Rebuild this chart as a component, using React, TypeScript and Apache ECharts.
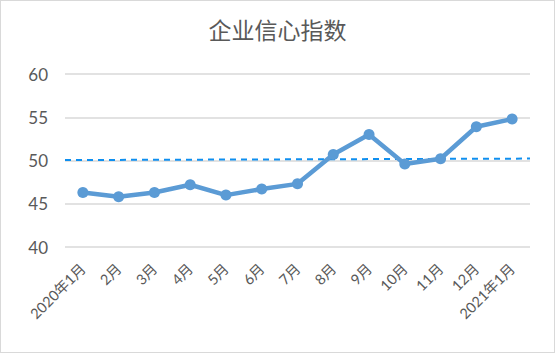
import React, { useEffect, useRef } from "react";
import * as echarts from "echarts";

const categories = ["2020年1月", "2月", "3月", "4月", "5月", "6月", "7月", "8月", "9月", "10月", "11月", "12月", "2021年1月"];
const confidenceIndex = [46.3, 45.8, 46.3, 47.2, 46.0, 46.7, 47.3, 50.7, 53.0, 49.6, 50.2, 53.9, 54.8];
const referenceLine = [[0, 50.05], [1, 50.22]];
const yTicks = { min: 40, max: 60, interval: 5 };

const FONT = "Lato, 'Noto Sans CJK SC', sans-serif";

export default function App() {
  const ref = useRef<HTMLDivElement>(null);
  useEffect(() => {
    document.body.style.margin = "0";
    const chart = echarts.init(ref.current!, null, { renderer: "svg" });
    chart.setOption({
      animation: false,
      backgroundColor: "#ffffff",
      title: {
        text: "企业信心指数",
        left: "center",
        top: 11,
        textStyle: { fontFamily: "'Noto Sans CJK SC', sans-serif", fontSize: 23, fontWeight: "normal", color: "#595959" },
      },
      grid: { left: 64, right: 24, top: 73, bottom: 105 },
      xAxis: [
        {
          type: "category",
          data: categories,
          boundaryGap: true,
          axisLine: { show: false },
          axisTick: { show: false },
          axisLabel: { rotate: 45, margin: 19, fontFamily: FONT, fontSize: 14.5, color: "#595959", interval: 0 },
        },
        { type: "value", min: 0, max: 1, show: false },
      ],
      yAxis: {
        type: "value",
        min: yTicks.min,
        max: yTicks.max,
        interval: yTicks.interval,
        axisLine: { show: false },
        axisTick: { show: false },
        axisLabel: { fontFamily: FONT, fontSize: 17, color: "#595959", margin: 17 },
        splitLine: { lineStyle: { color: "#d9d9d9", width: 1.5 } },
      },
      series: [
        {
          type: "line",
          data: referenceLine,
          xAxisIndex: 1,
          symbol: "none",
          lineStyle: { color: "#0f8fef", width: 2, type: [6, 5] },
          z: 1,
        },
        {
          type: "line",
          data: confidenceIndex,
          xAxisIndex: 0,
          symbol: "circle",
          symbolSize: 11,
          lineStyle: { color: "#5b9bd5", width: 4.5 },
          itemStyle: { color: "#5b9bd5" },
          z: 2,
        },
      ],
    });
    return () => chart.dispose();
  }, []);
  return (
    <div
      ref={ref}
      style={{ width: 555, height: 353, boxSizing: "border-box", border: "1px solid #d9d9d9", position: "absolute", left: 0, top: 0 }}
    />
  );
}
